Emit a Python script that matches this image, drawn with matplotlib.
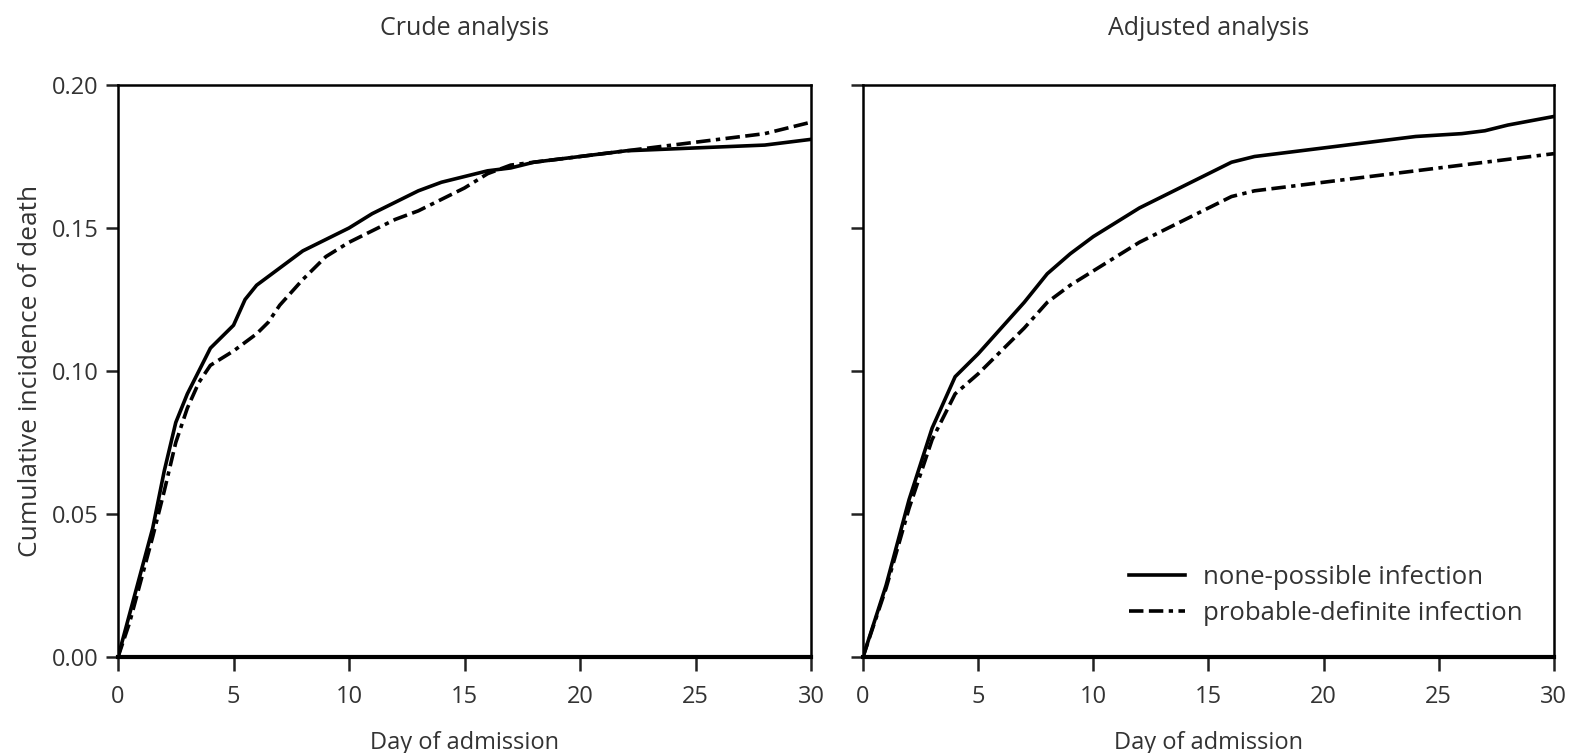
import matplotlib.pyplot as plt

plt.rcParams['font.family'] = ['Open Sans', 'DejaVu Sans']

# crude analysis
crude_days_solid = [0, 0.5, 1, 1.5, 2, 2.5, 3, 3.5, 4, 4.5, 5, 5.5, 6, 6.5, 7, 8, 9, 10,
                    11, 12, 13, 14, 15, 16, 17, 18, 20, 22, 25, 28, 30]
crude_solid = [0, 0.015, 0.03, 0.045, 0.065, 0.082, 0.092, 0.100, 0.108, 0.112, 0.116,
               0.125, 0.130, 0.133, 0.136, 0.142, 0.146, 0.150, 0.155, 0.159, 0.163,
               0.166, 0.168, 0.170, 0.171, 0.173, 0.175, 0.177, 0.178, 0.179, 0.181]
crude_days_dash = [0, 0.5, 1, 1.5, 2, 2.5, 3, 3.5, 4, 5, 6, 6.5, 7, 8, 9, 10, 11, 12,
                   13, 14, 15, 16, 17, 18, 20, 22, 24, 26, 28, 30]
crude_dash = [0, 0.012, 0.027, 0.042, 0.058, 0.075, 0.087, 0.096, 0.102, 0.107, 0.113,
              0.117, 0.123, 0.132, 0.140, 0.145, 0.149, 0.153, 0.156, 0.160, 0.164,
              0.169, 0.172, 0.173, 0.175, 0.177, 0.179, 0.181, 0.183, 0.187]

# adjusted analysis
adj_days_solid = [0, 1, 2, 3, 4, 5, 6, 7, 8, 9, 10, 11, 12, 13, 14, 15, 16, 17, 18,
                  20, 22, 24, 26, 27, 28, 30]
adj_solid = [0, 0.025, 0.055, 0.080, 0.098, 0.106, 0.115, 0.124, 0.134, 0.141, 0.147,
             0.152, 0.157, 0.161, 0.165, 0.169, 0.173, 0.175, 0.176, 0.178, 0.180,
             0.182, 0.183, 0.184, 0.186, 0.189]
adj_days_dash = [0, 1, 2, 3, 4, 5, 6, 7, 8, 9, 10, 11, 12, 13, 14, 15, 16, 17, 18,
                 20, 22, 24, 26, 28, 30]
adj_dash = [0, 0.024, 0.052, 0.076, 0.092, 0.099, 0.107, 0.115, 0.124, 0.130, 0.135,
            0.140, 0.145, 0.149, 0.153, 0.157, 0.161, 0.163, 0.164, 0.166, 0.168,
            0.170, 0.172, 0.174, 0.176]

xticks = [0, 5, 10, 15, 20, 25, 30]
yticks = [0.00, 0.05, 0.10, 0.15, 0.20]
dash_style = (0, (4, 1.5, 4, 1.5, 1.2, 1.5))
txt = "#333333"

fig = plt.figure(figsize=(15.8, 7.53), dpi=100)
ax1 = fig.add_axes([0.0747, 0.1275, 0.4386, 0.7596])
ax2 = fig.add_axes([0.5462, 0.1275, 0.4373, 0.7596])

panels = [
    (ax1, "Crude analysis", crude_days_solid, crude_solid, crude_days_dash, crude_dash),
    (ax2, "Adjusted analysis", adj_days_solid, adj_solid, adj_days_dash, adj_dash),
]

for ax, title, xs, ys, xd, yd in panels:
    ax.plot(xs, ys, color="black", lw=2.6, label="none-possible infection")
    ax.plot(xd, yd, color="black", lw=2.6, linestyle=dash_style,
            label="probable-definite infection")
    ax.set_xlim(0, 30)
    ax.set_ylim(0, 0.20)
    ax.set_xticks(xticks)
    ax.set_yticks(yticks)
    ax.tick_params(direction="out", width=1.8, labelsize=17,
                   colors="#222222", labelcolor=txt)
    ax.tick_params(axis="x", length=10, pad=10)
    ax.tick_params(axis="y", length=9, pad=5)
    for s in ax.spines.values():
        s.set_linewidth(1.8)
        s.set_color("black")
    ax.spines["bottom"].set_linewidth(3)
    ax.set_title(title, fontsize=18, color=txt, pad=36)
    ax.set_xlabel("Day of admission", fontsize=17, color=txt, labelpad=16)

ax1.set_yticklabels(["0.00", "0.05", "0.10", "0.15", "0.20"])
ax2.set_yticklabels([])
ax1.set_ylabel("Cumulative incidence of death", fontsize=19, color=txt, labelpad=6)

ax2.legend(loc="lower right", frameon=False, fontsize=18.5, handlelength=2.2,
           handletextpad=0.7, borderaxespad=0.8, labelspacing=0.45, labelcolor=txt)

fig.savefig("out.png", dpi=100)
